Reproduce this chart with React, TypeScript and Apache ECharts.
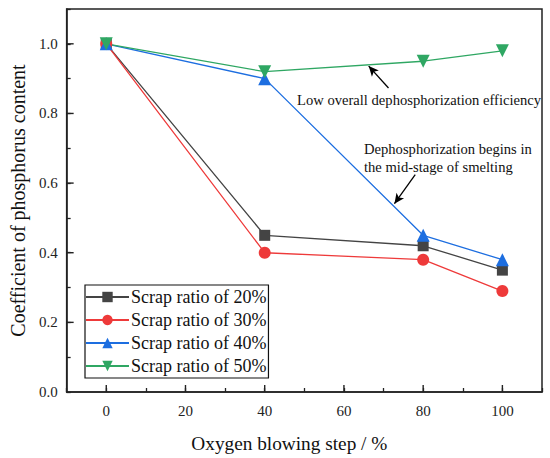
import React, { useEffect, useRef } from "react";
import * as echarts from "echarts";

const steps = [0, 40, 80, 100];
const scrap20 = [1.0, 0.45, 0.42, 0.35];
const scrap30 = [1.0, 0.4, 0.38, 0.29];
const scrap40 = [1.0, 0.9, 0.45, 0.38];
const scrap50 = [1.0, 0.92, 0.95, 0.98];
const seriesNames = ["Scrap ratio of 20%", "Scrap ratio of 30%", "Scrap ratio of 40%", "Scrap ratio of 50%"];
const majorX = [0, 20, 40, 60, 80, 100];
const majorY = [0.2, 0.4, 0.6, 0.8, 1.0];
const arrowLow = [[71.25, 0.873], [66.25, 0.936]];
const arrowMid = [[78, 0.624], [72.75, 0.541]];

const FONT = "Liberation Serif";

export default function App() {
  const ref = useRef<HTMLDivElement>(null);
  useEffect(() => {
    if (!ref.current) return;
    const chart = echarts.init(ref.current, null, { renderer: "svg" });
    const pair = (ys: number[]) => steps.map((x, i) => [x, ys[i]]);
    const arrowLine = (pts: number[][]) => ({
      silent: true,
      symbol: ["none", "arrow"],
      symbolSize: [7, 10],
      label: { show: false },
      lineStyle: { color: "#000", width: 1.3, type: "solid" },
      emphasis: { disabled: true },
      data: [[{ coord: pts[0] }, { coord: pts[1] }]],
    });
    const lineSeries = (name: string, ys: number[], color: string, symbol: string, size: number, rotate = 0, extra: any = {}) => ({
      type: "line",
      name,
      data: pair(ys),
      symbol,
      symbolSize: size,
      symbolRotate: rotate,
      showAllSymbol: true,
      lineStyle: { color, width: 1.3 },
      itemStyle: { color, borderWidth: 0 },
      emphasis: { disabled: true },
      z: 3,
      ...extra,
    });
    const tickStyle = { stroke: "#222", lineWidth: 1.4 };
    chart.setOption({
      animation: false,
      backgroundColor: "#fff",
      textStyle: { fontFamily: FONT },
      grid: { left: 62, right: 8, top: 9, bottom: 61, show: true, borderColor: "#222", borderWidth: 1.5 },
      legend: {
        orient: "vertical",
        left: 85,
        top: 285,
        itemWidth: 43,
        itemHeight: 13,
        itemGap: 5,
        padding: [3, 2, 3, 0],
        borderColor: "#111",
        borderWidth: 1.2,
        backgroundColor: "#fff",
        textStyle: { fontFamily: FONT, fontSize: 18, color: "#111", padding: [0, 0, 0, -3] },
        data: seriesNames,
      },
      xAxis: {
        type: "value",
        min: -10,
        max: 110,
        interval: 10,
        name: "Oxygen blowing step / %",
        nameLocation: "middle",
        nameGap: 42,
        nameTextStyle: { fontFamily: FONT, fontSize: 19.3, color: "#111", padding: [0, 30, 0, 0] },
        axisLine: { onZero: false, lineStyle: { color: "#222", width: 1.5 } },
        axisTick: { inside: true, length: 4, lineStyle: { color: "#222", width: 1.3 } },
        splitLine: { show: false },
        axisLabel: {
          fontFamily: FONT,
          fontSize: 15,
          color: "#222",
          margin: 11,
          formatter: (v: number) => (v >= 0 && v <= 100 && Math.round(v) % 20 === 0 ? String(Math.round(v)) : ""),
        },
      },
      yAxis: {
        type: "value",
        min: 0,
        max: 1.1,
        interval: 0.1,
        name: "Coefficient of phosphorus content",
        nameLocation: "middle",
        nameGap: 36,
        nameTextStyle: { fontFamily: FONT, fontSize: 20, color: "#111" },
        axisLine: { show: true, onZero: false, lineStyle: { color: "#222", width: 1.5 } },
        axisTick: { show: true, inside: true, length: 4, lineStyle: { color: "#222", width: 1.3 } },
        splitLine: { show: false },
        axisLabel: {
          fontFamily: FONT,
          fontSize: 15,
          color: "#222",
          margin: 9,
          formatter: (v: number) => {
            const k = Math.round(v * 10);
            return k % 2 === 0 && k <= 10 ? (k / 10).toFixed(1) : "";
          },
        },
      },
      series: [
        {
          type: "custom",
          name: "majorTicksX",
          silent: true,
          clip: false,
          data: majorX.map((v) => [v, 0]),
          renderItem: (params: any, api: any) => {
            const p = api.coord([api.value(0), 0]);
            return { type: "line", shape: { x1: p[0], y1: p[1], x2: p[0], y2: p[1] - 7 }, style: tickStyle };
          },
          z: 2,
        },
        {
          type: "custom",
          name: "majorTicksY",
          silent: true,
          clip: false,
          data: majorY.map((v) => [-10, v]),
          renderItem: (params: any, api: any) => {
            const p = api.coord([-10, api.value(1)]);
            return { type: "line", shape: { x1: p[0], y1: p[1], x2: p[0] + 7, y2: p[1] }, style: tickStyle };
          },
          z: 2,
        },
        lineSeries(seriesNames[0], scrap20, "#444444", "rect", 11),
        lineSeries(seriesNames[1], scrap30, "#ee3a3a", "circle", 12),
        lineSeries(seriesNames[2], scrap40, "#1d6ee0", "triangle", 13, 0, { markLine: arrowLine(arrowMid) }),
        lineSeries(seriesNames[3], scrap50, "#2fa763", "triangle", 13, 180, { markLine: arrowLine(arrowLow) }),
      ],
      graphic: [
        {
          type: "text",
          left: 297,
          top: 92,
          style: { text: "Low overall dephosphorization efficiency", font: `14.6px "${FONT}"`, fill: "#111" },
        },
        {
          type: "text",
          left: 364,
          top: 140,
          style: { text: "Dephosphorization begins in\nthe mid-stage of smelting", font: `14.6px "${FONT}"`, fill: "#111", lineHeight: 18 },
        },
      ],
    });
    return () => chart.dispose();
  }, []);
  return <div ref={ref} style={{ position: "fixed", left: 0, top: 0, width: 550, height: 458, background: "#fff" }} />;
}
